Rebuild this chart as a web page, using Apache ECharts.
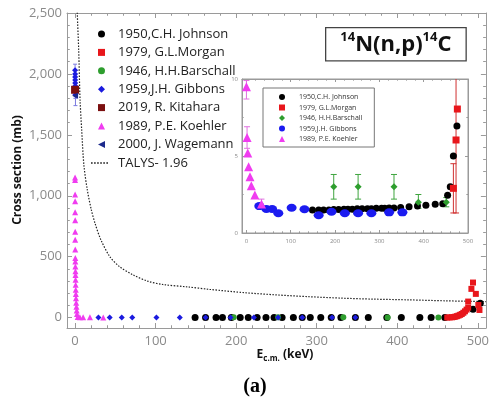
<!DOCTYPE html>
<html><head><meta charset="utf-8">
<script src="https://cdn.jsdelivr.net/npm/echarts@6/dist/echarts.min.js"></script>
<style>html,body{margin:0;padding:0;background:#fff}#c{width:492px;height:400px}</style>
</head><body><div id="c"></div>
<script>
// ---------- DATA (main panel: E c.m. keV, cross section mb) ----------
const johnsonMain = [[149,2],[162,2],[175,2],[183,2],[194,2],[205,2],[215,2],[226,2],[237,2],[247,2],[257,2],[271,2],[282,2],[292,2],[305,2],[318,2],[330,2],[348,2],[364,2],[387,2],[405,2],[428,2],[442,2],[459,2],[494,69],[503,118]];
const morganMain = [[462,1],[465,2],[468,3],[470,5],[472,8],[474,12],[476,17],[478,23],[480,30],[482,40],[484,52],[486,66],[488,82],[488,132],[492,236],[494,288],[497.5,195],[500.6,104],[502,63]];
const barschallMain = [[197,3],[252,3],[333,3],[388,2],[451,2]];
const gibbonsMain = [[0.03,2030],[0.06,2000],[0.1,1975],[0.15,1950],[0.2,1925],[0.3,1900],[0.4,1860],[0.5,1830],[29,1.7],[43,1.6],[58,1.6],[71,1.3],[101,1.6],[130,1.5],[162,1.2],[193,1.4],[222,1.3],[252,1.3],[282,1.3],[319,1.3],[348,1.3]];
const gibbonsMainErr = [[0.03,1980,2080],[0.1,1920,2030],[0.2,1870,1980],[0.4,1800,1920],[0.5,1740,1900]];
const kitaharaMain = [[0.0253,1870]];
const koehlerMain = [[0.02,1150],[0.03,1130],[0.05,1010],[0.07,955],[0.1,865],[0.13,800],[0.17,705],[0.2,640],[0.25,560],[0.3,490],[0.35,460],[0.4,420],[0.5,380],[0.55,350],[0.65,310],[0.75,270],[0.9,228],[1.0,195],[1.2,160],[1.4,123],[1.7,90],[2.0,58],[2.4,30],[3.3,6],[6,4],[10,3],[18.5,2.5],[35,1.9]];
const wagemannMain = [[0.0253,1820]];
const talys = [[2.2,2800],[2.8,2500],[4.5,2200],[6.2,1790],[8.2,1543],[11,1250],[15.2,1049],[20,890],[24.7,776],[32,640],[43,502],[55,420],[72,351],[90,300],[109,272],[140,252],[167,232],[210,205],[249,187],[290,172],[331,160],[370,152],[414,146],[460,138],[504,132],[510,131]];

// ---------- DATA (inset panel) ----------
const johnsonInset = [[149,1.49],[163,1.5],[174,1.5],[186,1.5],[197,1.52],[208,1.52],[220,1.55],[229,1.55],[239,1.55],[250,1.57],[261,1.57],[273,1.58],[282,1.58],[293,1.6],[305,1.6],[312,1.6],[322,1.62],[333,1.62],[348,1.65],[367,1.7],[386,1.75],[405,1.8],[426,1.87],[443,1.9],[454,2.45],[460,3.0],[467,5.0],[475,6.95]];
const morganInset = [[467,2.9],[473,6.04],[476,8.05]];
const morganInsetErr = [[467,1.3,4.5],[473,1.3,10.5]];
const barschallInset = [[197,3.0],[252,3.0],[333,3.0],[388,2.0],[451,2.0]];
const barschallInsetErr = [[197,2.2,3.8],[252,2.2,3.8],[333,2.2,3.8],[388,1.6,2.5],[451,1.7,2.3]];
const gibbonsInset = [[29,1.75],[45,1.56],[58,1.56],[72,1.28],[102,1.64],[131,1.54],[163,1.15],[192,1.38],[222,1.28],[252,1.28],[282,1.28],[322,1.34],[352,1.34]];
const koehlerInset = [[0,9.5],[1.4,6.2],[3,5.2],[5,4.3],[8,3.65],[11,3.07],[19,2.47],[34,1.88]];
const koehlerInsetErr = [[0,8.7,9.9],[1.4,5.5,6.9],[34,1.6,2.2]];

const mainNames = ['1950,C.H. Johnson','1979, G.L.Morgan','1946, H.H.Barschall','1959,J.H. Gibbons','2019, R. Kitahara','1989, P.E. Koehler','2000, J. Wagemann'];
const talysName = 'TALYS- 1.96';
const insetNames = ['i:1950,C.H. Johnson','i:1979, G.L.Morgan','i:1946, H.H.Barschall','i:1959,J.H. Gibbons','i:1989, P.E. Koehler'];

// ---------- STYLE ----------
const AX = '#9a9a9a';
const LBL = '#8a8a8a';
const FONT = 'Open Sans';
const C = {black:'#000000', red:'#e8161b', green:'#2e9e2e', blue:'#1b1bdf', maroon:'#7b1010', pink:'#f03cf0', navy:'#1c2a8c'};
const LEFT_TRI = 'path://M10,0 L10,10 L0,5 Z';
let dots = ''; for (let i = 0; i < 6; i++) dots += 'M' + (i*3) + ',0h1.6v1h-1.6z ';
const DOT_LINE = 'path://' + dots;

function axis(kind, o) {
  const a = {
    type:'value', gridIndex:o.grid, position:o.pos, min:o.min, max:o.max,
    splitNumber:o.split, scale:false,
    axisLine:{show:true, onZero:false, lineStyle:{color:AX, width:1}},
    axisTick:{show:true, inside:true, length:o.tl, lineStyle:{color:AX}},
    minorTick:{show:true, splitNumber:o.minor, length:o.tl*0.55, lineStyle:{color:AX}},
    splitLine:{show:false},
    axisLabel:{show:!!o.fmt, color:LBL, fontSize:o.fs, fontFamily:FONT, margin:o.margin, formatter:o.fmt}
  };
  if (o.interval) a.interval = o.interval;
  return a;
}
const fmtX = v => (Math.abs(v % 100) < 1e-9 && v >= 0 && v <= 500) ? String(v) : '';
const fmtY = v => (v >= 0 && v % 500 === 0) ? String(v).replace(/\B(?=(\d{3})+(?!\d))/g, ',') : '';
const fmtIX = v => (Math.abs(v % 100) < 1e-9 && v >= 0) ? String(v) : '';
const fmtIY = v => String(v);

function sc(name, data, xi, yi, symbol, size, color, extra) {
  return Object.assign({type:'scatter', name, data, xAxisIndex:xi, yAxisIndex:yi, symbol, symbolSize:size,
    itemStyle:{color, opacity:1}, z:3, clip:true, emphasis:{disabled:true}}, extra||{});
}
function eb(data, xi, yi, color, cap) {
  return {type:'custom', name:'err', data, xAxisIndex:xi, yAxisIndex:yi, z:2, clip:true, silent:true,
    renderItem:(params, api) => {
      const x = api.value(0), lo = api.value(1), hi = api.value(2);
      const p1 = api.coord([x, lo]), p2 = api.coord([x, hi]);
      const st = {stroke:color, lineWidth:1};
      return {type:'group', children:[
        {type:'line', shape:{x1:p1[0], y1:p1[1], x2:p2[0], y2:p2[1]}, style:st},
        {type:'line', shape:{x1:p1[0]-cap, y1:p1[1], x2:p1[0]+cap, y2:p1[1]}, style:st},
        {type:'line', shape:{x1:p2[0]-cap, y1:p2[1], x2:p2[0]+cap, y2:p2[1]}, style:st}
      ]};
    }};
}

const option = {
  animation:false,
  backgroundColor:'#ffffff',
  grid:[
    {left:67, right:4, top:13, bottom:72, containLabel:false},
    {left:242, right:24, top:79, bottom:167, containLabel:false, show:true, backgroundColor:'#ffffff', borderColor:AX, borderWidth:1}
  ],
  xAxis:[
    axis('x',{grid:0,pos:'bottom',min:-10,max:510,split:5,minor:5,tl:5,fs:13,margin:7,fmt:fmtX}),
    axis('x',{grid:0,pos:'top',min:-10,max:510,split:5,minor:5,tl:5}),
    axis('x',{grid:1,pos:'bottom',min:-10,max:500,split:5,minor:5,tl:3,fs:6,margin:5,fmt:fmtIX}),
    axis('x',{grid:1,pos:'top',min:-10,max:500,split:5,minor:5,tl:3})
  ],
  yAxis:[
    axis('y',{grid:0,pos:'left',min:-85,max:2500,split:5,minor:5,tl:5,fs:13,margin:5,fmt:fmtY}),
    axis('y',{grid:0,pos:'right',min:-85,max:2500,split:5,minor:5,tl:5}),
    axis('y',{grid:1,pos:'left',min:0,max:10,interval:5,minor:2,tl:3,fs:6,margin:4,fmt:fmtIY}),
    axis('y',{grid:1,pos:'right',min:0,max:10,interval:5,minor:2,tl:3})
  ],
  legend:[
    {data:mainNames.map(n => n === '2000, J. Wagemann' ? {name:n, icon:LEFT_TRI} : n),
     orient:'vertical', left:93, top:21, itemWidth:7, itemHeight:7, itemGap:2.4, symbolKeepAspect:true,
     selectedMode:false, textStyle:{fontSize:13, color:'#222', fontFamily:FONT, lineHeight:16, padding:[0,0,0,8]}},
    {data:[{name:talysName, icon:DOT_LINE}], orient:'vertical', left:86, top:150, itemWidth:17, itemHeight:1.4,
     symbolKeepAspect:false, selectedMode:false, itemStyle:{color:'#222'},
     textStyle:{fontSize:13, color:'#222', fontFamily:FONT, lineHeight:16, padding:[0,0,0,5]}},
    {data:insetNames, orient:'vertical', left:263, top:88, itemWidth:6, itemHeight:6, itemGap:2.5,
     padding:[5,12,4,16], backgroundColor:'#fff', borderColor:'#777', borderWidth:1, selectedMode:false,
     formatter:n => n.slice(2), textStyle:{fontSize:7, color:'#333', fontFamily:FONT, lineHeight:8, padding:[0,0,0,9]}}
  ],
  series:[
    // main panel
    {type:'line', name:talysName, data:talys, xAxisIndex:0, yAxisIndex:0, symbol:'none', smooth:0.3, clip:true,
     lineStyle:{color:'#222', width:1.2, type:[1.5,1.5]}, itemStyle:{color:'#222'}, z:2},
    eb(gibbonsMainErr, 0, 0, '#7b7be0', 2),
    sc('1950,C.H. Johnson', johnsonMain, 0, 0, 'circle', 7, C.black),
    sc('1979, G.L.Morgan', morganMain, 0, 0, 'rect', 6, C.red),
    sc('1946, H.H.Barschall', barschallMain, 0, 0, 'circle', 6, C.green),
    sc('1959,J.H. Gibbons', gibbonsMain, 0, 0, 'diamond', 6, C.blue),
    sc('2019, R. Kitahara', kitaharaMain, 0, 0, 'rect', 8, C.maroon),
    sc('1989, P.E. Koehler', koehlerMain, 0, 0, 'triangle', 6, C.pink),
    sc('2000, J. Wagemann', wagemannMain, 0, 0, LEFT_TRI, 6, C.navy),
    // inset panel
    eb(morganInsetErr, 2, 2, '#d03030', 3),
    eb(barschallInsetErr, 2, 2, '#3fa53f', 3),
    eb(koehlerInsetErr, 2, 2, '#e070e0', 3),
    sc('i:1950,C.H. Johnson', johnsonInset, 2, 2, 'circle', 7, C.black),
    sc('i:1979, G.L.Morgan', morganInset, 2, 2, 'rect', 7, C.red),
    sc('i:1946, H.H.Barschall', barschallInset, 2, 2, 'diamond', 7, C.green),
    sc('i:1959,J.H. Gibbons', gibbonsInset, 2, 2, 'circle', [10,8], '#1b1bf0'),
    sc('i:1989, P.E. Koehler', koehlerInset, 2, 2, 'triangle', 9, C.pink)
  ],
  graphic:[
    {type:'text', left:325, top:27, z:10, style:{
      text:'{s|14}{b|N(n,p)}{s|14}{b|C}',
      rich:{b:{fontSize:22, fontWeight:'bold', fontFamily:FONT, fill:'#111', lineHeight:28},
            s:{fontSize:13, fontWeight:'bold', fontFamily:FONT, fill:'#111', verticalAlign:'top', lineHeight:14}},
      backgroundColor:'#fff', borderColor:'#444', borderWidth:1.3, padding:[2,14,2,14]}},
    {type:'text', x:18, y:170, rotation:Math.PI/2, z:10, style:{
      text:'Cross section (mb)', font:'bold 12px "Open Sans"', fill:'#111', align:'center', verticalAlign:'middle'}},
    {type:'text', x:285, y:355, z:10, style:{
      text:'{b|E}{s|c.m.}{b| (keV)}', align:'center', verticalAlign:'middle',
      rich:{b:{fontSize:12, fontWeight:'bold', fontFamily:FONT, fill:'#111', lineHeight:16},
            s:{fontSize:8, fontWeight:'bold', fontFamily:FONT, fill:'#111', verticalAlign:'bottom', lineHeight:12}}}},
    {type:'text', x:255, y:387, z:10, style:{
      text:'(a)', font:'bold 20px "Liberation Serif"', fill:'#000', align:'center', verticalAlign:'middle'}}
  ]
};
const chart = echarts.init(document.getElementById('c'));
chart.setOption(option);
</script></body></html>
